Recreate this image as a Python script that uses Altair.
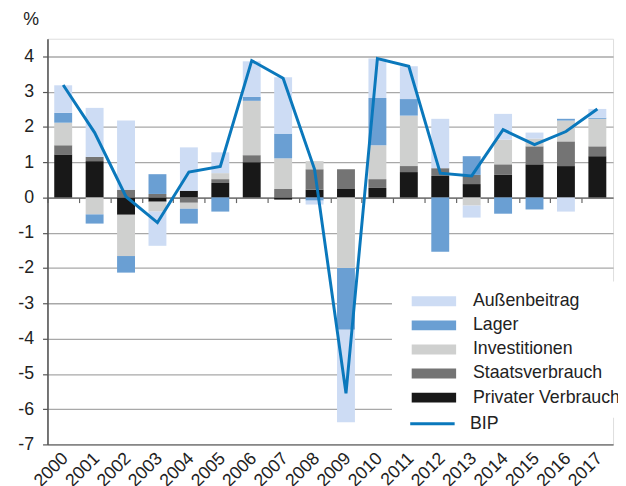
import altair as alt
import pandas as pd

years = [str(y) for y in range(2000, 2018)]
privat = [1.22, 1.03, -0.49, -0.12, 0.19, 0.41, 1.00, -0.06, 0.22, 0.24, 0.27, 0.72, 0.61, 0.38, 0.64, 0.94, 0.89, 1.17]
staat = [0.26, 0.12, 0.22, 0.10, -0.15, 0.11, 0.20, 0.24, 0.58, 0.56, 0.25, 0.17, 0.22, 0.26, 0.30, 0.51, 0.70, 0.28]
invest = [0.64, -0.48, -1.17, -0.28, -0.17, 0.17, 1.54, 0.87, 0.23, -2.00, 0.96, 1.43, 0.00, -0.23, 0.70, 0.22, 0.59, 0.78]
lager = [0.28, -0.26, -0.47, 0.56, -0.42, -0.40, 0.11, 0.70, -0.09, -1.75, 1.34, 0.47, -1.54, 0.53, -0.46, -0.34, 0.05, 0.03]
aussen = [0.78, 1.39, 1.96, -0.97, 1.23, 0.59, 1.01, 1.60, -0.11, -2.62, 1.12, 0.93, 1.40, -0.34, 0.73, 0.17, -0.40, 0.25]
bip = [3.19, 1.84, 0.02, -0.71, 0.72, 0.88, 3.88, 3.38, 0.80, -5.55, 3.94, 3.72, 0.69, 0.61, 1.92, 1.50, 1.87, 2.51]

bar_names = ["Außenbeitrag", "Lager", "Investitionen", "Staatsverbrauch", "Privater Verbrauch"]
bar_colors = ["#cddcf4", "#6a9fd3", "#cfd0cf", "#747474", "#181818"]
line_name = "BIP"
line_color = "#0a78bc"
y_ticks = [-7, -6, -5, -4, -3, -2, -1, 0, 1, 2, 3, 4]

stack_series = [("Privater Verbrauch", privat), ("Staatsverbrauch", staat), ("Investitionen", invest),
                ("Lager", lager), ("Außenbeitrag", aussen)]
rows = []
for order, (name, vals) in enumerate(stack_series):
    for yr, v in zip(years, vals):
        rows.append({"year": yr, "series": name, "value": v, "ord": order})
bars_df = pd.DataFrame(rows)
line_df = pd.DataFrame({"year": years, "value": bip, "series": line_name})

FONT = "Liberation Sans"

x_scale = alt.Scale(paddingInner=0.43, paddingOuter=0.215)
y_scale = alt.Scale(domain=[-7, 4.5], nice=False, zero=False)

bar_legend = alt.Legend(
    title=None, orient="none", legendX=349, legendY=246, padding=11,
    fillColor="white", labelFontSize=18, labelFont=FONT, labelColor="#222",
    labelOffset=53, symbolSize=100, symbolStrokeWidth=0, rowPadding=6.4,
    symbolType="M0,-1H9V1H0Z", symbolOpacity=1, labelLimit=300,
)
line_legend = alt.Legend(
    title=None, orient="none", legendX=358.5, legendY=381, padding=0,
    labelFontSize=18, labelFont=FONT, labelColor="#222",
    labelOffset=51.5, symbolSize=100, symbolStrokeWidth=3,
    symbolType="M0,0H9", symbolOpacity=1, labelLimit=300,
)

bars = alt.Chart(bars_df).mark_bar().encode(
    x=alt.X("year:N", scale=x_scale, sort=years,
            axis=alt.Axis(title=None, orient="bottom", labelAngle=-45, labelFontSize=18, labelFont=FONT,
                          labelColor="#222", labelPadding=5, labelOffset=-4, ticks=False, domain=True,
                          domainColor="#777", domainWidth=1.2, grid=False, labelOverlap=False)),
    y=alt.Y("value:Q", stack="zero", scale=y_scale,
            axis=alt.Axis(title="%", orient="left", titleAngle=0, titleX=-25, titleY=-14,
                          titleAlign="left", titleBaseline="alphabetic", titleFontSize=18,
                          titleFont=FONT, titleFontWeight="normal", titleColor="#222",
                          values=y_ticks, labelExpr="'' + datum.value",
                          labelFontSize=18, labelFont=FONT, labelColor="#222", labelPadding=9,
                          tickSize=5, tickColor="#555", tickWidth=1.2,
                          domainColor="#555", domainWidth=1.6,
                          grid=True, gridColor="#a8a8a8", gridWidth=1.3, labelOverlap=False)),
    color=alt.Color("series:N", scale=alt.Scale(domain=bar_names, range=bar_colors), legend=bar_legend),
    order=alt.Order("ord:Q", sort="ascending"),
)

line = alt.Chart(line_df).mark_line(strokeWidth=3).encode(
    x=alt.X("year:N", sort=years,
            axis=alt.Axis(title=None, orient="bottom", labels=False, ticks=True, tickSize=5,
                          tickColor="#666", tickWidth=1.2, domain=True, domainColor="#666",
                          domainWidth=1.3, grid=False, offset=-250, bandPosition=0,
                          tickOffset=-6.84)),
    y=alt.Y("value:Q", scale=y_scale, axis=None),
    stroke=alt.Stroke("series:N", scale=alt.Scale(domain=[line_name], range=[line_color]),
                      legend=line_legend),
)

chart = alt.layer(bars, line).resolve_axis(x="independent", y="independent").properties(
    width=573, height=411,
    autosize=alt.AutoSizeParams(type="none"),
    padding={"left": 40, "top": 28, "right": 5, "bottom": 39},
).configure_view(strokeWidth=0).configure(font=FONT)

chart.save("out.html", embed_options={"renderer": "svg", "actions": False})
